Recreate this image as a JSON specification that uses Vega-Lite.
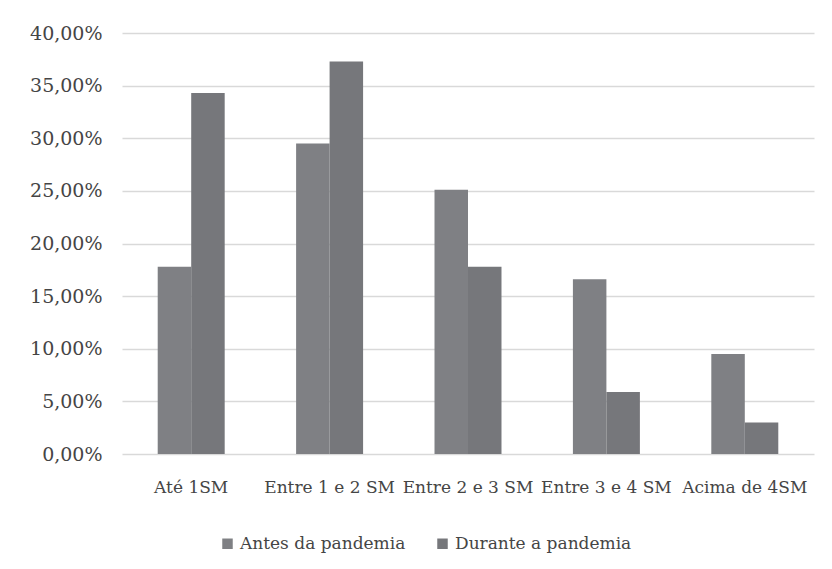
{
  "$schema": "https://vega.github.io/schema/vega-lite/v6.json",
  "autosize": {"type": "none"},
  "width": 692,
  "height": 421,
  "padding": {"left": 122, "top": 33, "right": 18, "bottom": 115},
  "background": "white",
  "data": {
    "values": [
      {"faixa": "Até 1SM", "periodo": "Antes da pandemia", "valor": 0.178},
      {"faixa": "Até 1SM", "periodo": "Durante a pandemia", "valor": 0.343},
      {"faixa": "Entre 1 e 2 SM", "periodo": "Antes da pandemia", "valor": 0.295},
      {"faixa": "Entre 1 e 2 SM", "periodo": "Durante a pandemia", "valor": 0.373},
      {"faixa": "Entre 2 e 3 SM", "periodo": "Antes da pandemia", "valor": 0.251},
      {"faixa": "Entre 2 e 3 SM", "periodo": "Durante a pandemia", "valor": 0.178},
      {"faixa": "Entre 3 e 4 SM", "periodo": "Antes da pandemia", "valor": 0.166},
      {"faixa": "Entre 3 e 4 SM", "periodo": "Durante a pandemia", "valor": 0.059},
      {"faixa": "Acima de 4SM", "periodo": "Antes da pandemia", "valor": 0.095},
      {"faixa": "Acima de 4SM", "periodo": "Durante a pandemia", "valor": 0.030}
    ]
  },
  "mark": {"type": "bar"},
  "encoding": {
    "x": {
      "field": "faixa",
      "type": "nominal",
      "sort": null,
      "scale": {"paddingInner": 0.516, "paddingOuter": 0.258},
      "axis": {
        "title": null,
        "labelAngle": 0,
        "domain": false,
        "ticks": false,
        "labelPadding": 25,
        "labelFont": "DejaVu Serif",
        "labelFontSize": 17,
        "labelColor": "#454545",
        "labelLimit": 0
      }
    },
    "xOffset": {"field": "periodo", "type": "nominal", "scale": {"paddingInner": 0, "paddingOuter": 0}},
    "y": {
      "field": "valor",
      "type": "quantitative",
      "scale": {"domain": [0, 0.4], "nice": false},
      "axis": {
        "title": null,
        "values": [0, 0.05, 0.1, 0.15, 0.2, 0.25, 0.3, 0.35, 0.4],
        "labelExpr": "replace(format(datum.value * 100, '.2f'), '.', ',') + '%'",
        "domain": false,
        "ticks": false,
        "labelPadding": 20,
        "labelFont": "DejaVu Serif",
        "labelFontSize": 19,
        "labelColor": "#454545",
        "grid": true,
        "gridColor": "#d9d9d9",
        "gridWidth": 1.5
      }
    },
    "color": {
      "field": "periodo",
      "type": "nominal",
      "scale": {"domain": ["Antes da pandemia", "Durante a pandemia"], "range": ["#7f8084", "#76777b"]},
      "legend": {
        "title": null,
        "orient": "none",
        "legendX": 97,
        "legendY": 502,
        "direction": "horizontal",
        "symbolType": "square",
        "symbolSize": 110,
        "symbolStrokeWidth": 0,
        "labelFont": "DejaVu Serif",
        "labelFontSize": 17,
        "labelColor": "#454545",
        "labelOffset": 4,
        "labelLimit": 0,
        "columnPadding": 28
      }
    }
  },
  "config": {
    "view": {"stroke": null},
    "axis": {"labelFontWeight": "normal"}
  }
}
